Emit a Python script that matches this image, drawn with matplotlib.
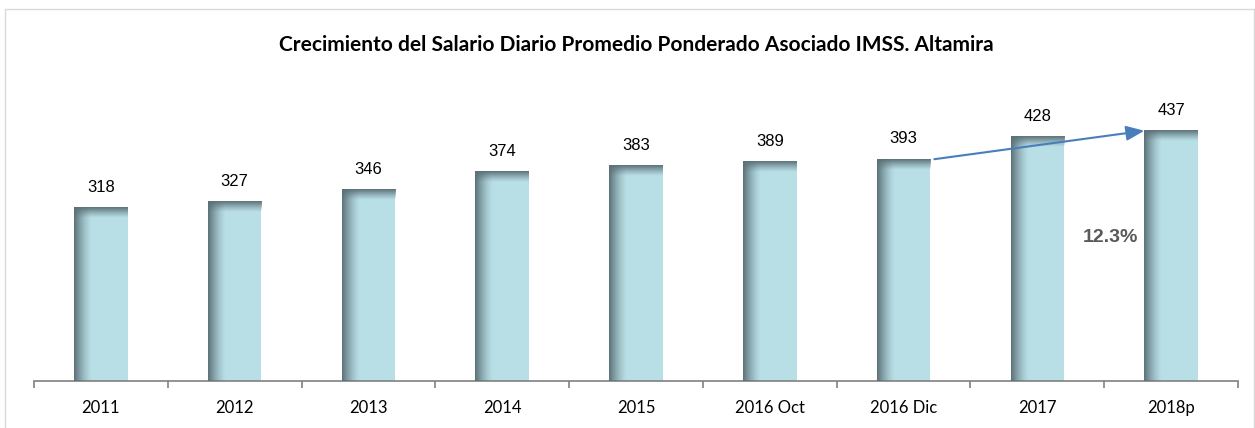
import numpy as np
import matplotlib.pyplot as plt
from matplotlib.patches import Rectangle

# datos del salario diario promedio (pesos)
categorias = ['2011', '2012', '2013', '2014', '2015', '2016 Oct', '2016 Dic', '2017', '2018p']
salarios = [318, 327, 346, 374, 383, 389, 393, 428, 437]
crecimiento = '12.3%'

W, H = 1255, 428
fig = plt.figure(figsize=(W / 100, H / 100), dpi=100)
ax = fig.add_axes([34 / W, 1 - 381 / H, (1238 - 34) / W, (381 - 90) / H])

x = np.arange(len(categorias))
ancho = 0.4
ymin, ymax = 50, 500
ax.set_xlim(-0.5, len(categorias) - 0.5)
ax.set_ylim(ymin, ymax)

claro = np.array([0.72, 0.87, 0.90])
oscuro = np.array([0.36, 0.44, 0.47])

for xi, v in zip(x, salarios):
    izq = xi - ancho / 2
    ax.bar(xi, v - ymin, bottom=ymin, width=ancho, color=claro, zorder=2)
    # sombra lateral izquierda
    n = 64
    t = np.linspace(0, 1, n)
    img = np.zeros((1, n, 4))
    img[0, :, :3] = oscuro
    img[0, :, 3] = np.clip(1 - t, 0, 1) ** 1.4
    ax.imshow(img, extent=[izq, izq + ancho * 0.32, ymin, v], aspect='auto',
              interpolation='bilinear', zorder=3)
    # sombra superior
    img2 = np.zeros((n, 1, 4))
    img2[:, 0, :3] = oscuro
    img2[:, 0, 3] = np.clip(1 - t, 0, 1) ** 1.2
    ax.imshow(img2, extent=[izq, izq + ancho, v - 16, v], aspect='auto',
              origin='upper', interpolation='bilinear', zorder=3)
    ax.text(xi, v + 20, str(v), ha='center', va='bottom', fontsize=12,
            family='Liberation Sans', color='black', zorder=4)

# flecha de crecimiento
ax.annotate('', xy=(7.8, 437), xytext=(6.23, 393),
            arrowprops=dict(arrowstyle='-|>,head_length=1.1,head_width=0.45',
                            color='#4a7ebb', lw=1.5, shrinkA=0, shrinkB=0), zorder=5)
ax.text(7.55, 272, crecimiento, ha='center', va='center', fontsize=14,
        fontweight='bold', family='Liberation Sans', color='#595959', zorder=5)

for s in ['top', 'right', 'left']:
    ax.spines[s].set_visible(False)
ax.spines['bottom'].set_color('#808080')
ax.spines['bottom'].set_linewidth(1.2)
ax.set_yticks([])
ax.set_xticks(np.arange(len(categorias) + 1) - 0.5, minor=True)
ax.set_xticks(x)
ax.set_xticklabels(categorias, family='Lato', fontsize=12)
ax.tick_params(axis='x', which='major', length=0, pad=14)
ax.tick_params(axis='x', which='minor', length=5, color='#808080', width=1.2)
ax.margins(x=0)

fig.text(636 / W, 1 - 45 / H,
         'Crecimiento del Salario Diario Promedio Ponderado Asociado IMSS. Altamira',
         ha='center', va='center', fontsize=15, fontweight='bold', family='Lato')

# marco exterior
fig.patches.append(Rectangle((5 / W, -0.1), (1254 - 5) / W, 1.1 - 9 / H,
                             transform=fig.transFigure, fill=False,
                             edgecolor='#d9d9d9', lw=1))

fig.savefig('out.png', dpi=100)
